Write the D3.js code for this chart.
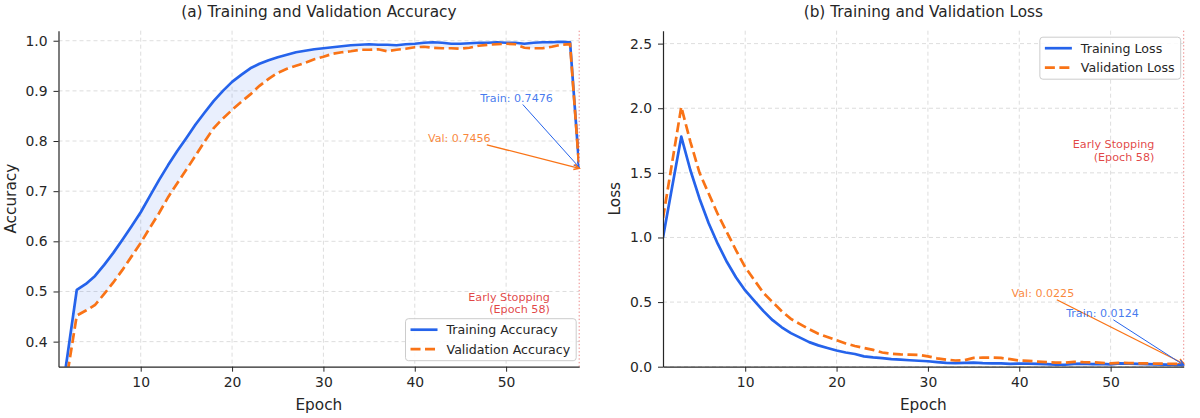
<!DOCTYPE html>
<html>
<head>
<meta charset="utf-8">
<script src="https://cdn.jsdelivr.net/npm/d3@7"></script>
<style>
  body { margin: 0; background: #fff; }
  svg { font-family: 'DejaVu Sans', sans-serif; }
</style>
</head>
<body>
<div id="chart"></div>
<script>
// values, epochs 1..58
const epochs = d3.range(1, 59)
const trainAcc = [
  0.250, 0.375, 0.503, 0.515, 0.531, 0.553, 0.577, 0.603, 0.630, 0.658,
  0.690, 0.722, 0.752, 0.780, 0.806, 0.833, 0.857, 0.880, 0.900, 0.918,
  0.932, 0.945, 0.954, 0.961, 0.967, 0.972, 0.977, 0.980, 0.983, 0.985,
  0.987, 0.989, 0.991, 0.992, 0.993, 0.992, 0.992, 0.991, 0.993, 0.994,
  0.996, 0.997, 0.996, 0.994, 0.994, 0.995, 0.996, 0.996, 0.997, 0.996,
  0.996, 0.994, 0.996, 0.997, 0.997, 0.998, 0.997, 0.7476
]
const valAcc = [
  0.226, 0.339, 0.452, 0.462, 0.473, 0.495, 0.518, 0.543, 0.570, 0.597,
  0.627, 0.656, 0.688, 0.716, 0.743, 0.771, 0.799, 0.826, 0.845, 0.862,
  0.878, 0.893, 0.910, 0.924, 0.936, 0.944, 0.950, 0.956, 0.963, 0.968,
  0.974, 0.977, 0.979, 0.982, 0.982, 0.983, 0.979, 0.982, 0.984, 0.987,
  0.988, 0.986, 0.985, 0.985, 0.984, 0.986, 0.990, 0.992, 0.993, 0.994,
  0.993, 0.986, 0.985, 0.985, 0.988, 0.992, 0.993, 0.7456
]
const trainLoss = [
  1.000, 1.390, 1.780, 1.520, 1.300, 1.110, 0.950, 0.810, 0.690, 0.590,
  0.510, 0.430, 0.360, 0.305, 0.260, 0.225, 0.190, 0.165, 0.145, 0.125,
  0.110, 0.098, 0.080, 0.072, 0.066, 0.058, 0.054, 0.050, 0.046, 0.042,
  0.036, 0.030, 0.028, 0.030, 0.032, 0.028, 0.026, 0.025, 0.022, 0.024,
  0.024, 0.022, 0.020, 0.016, 0.015, 0.022, 0.024, 0.020, 0.022, 0.018,
  0.026, 0.024, 0.022, 0.020, 0.018, 0.016, 0.014, 0.0124
]
const valLoss = [
  1.150, 1.580, 2.010, 1.740, 1.500, 1.340, 1.180, 1.040, 0.900, 0.770,
  0.670, 0.570, 0.500, 0.430, 0.370, 0.330, 0.290, 0.255, 0.230, 0.205,
  0.180, 0.160, 0.145, 0.130, 0.110, 0.100, 0.095, 0.093, 0.092, 0.080,
  0.065, 0.055, 0.048, 0.050, 0.068, 0.070, 0.070, 0.068, 0.058, 0.048,
  0.045, 0.040, 0.035, 0.032, 0.030, 0.038, 0.035, 0.034, 0.030, 0.026,
  0.030, 0.028, 0.026, 0.025, 0.024, 0.023, 0.022, 0.0225
]
const stopEpoch = 58
const epochTicks = [10, 20, 30, 40, 50]
const accTicks = [0.4, 0.5, 0.6, 0.7, 0.8, 0.9, 1.0]
const lossTicks = [0.0, 0.5, 1.0, 1.5, 2.0, 2.5]

const BLUE = '#2563eb'
const ORANGE = '#f97316'
const RED = '#dc2626'
const INK = '#262626'

const svg = d3.select('#chart').append('svg')
  .attr('width', 1200)
  .attr('height', 418)

let clipId = 0

function panel (opt) {
  const { x0, x1, y0, y1 } = opt
  const g = svg.append('g')

  const xScale = d3.scaleLinear().domain([1, stopEpoch]).range([x0, x1])
  const yScale = d3.scaleLinear().domain(opt.yDomain).range([y1, y0])

  // grid
  g.append('g').selectAll('line.gx')
    .data(epochTicks)
    .join('line')
    .attr('x1', d => xScale(d)).attr('x2', d => xScale(d))
    .attr('y1', y0).attr('y2', y1)
  g.append('g').selectAll('line.gy')
    .data(opt.yTicks)
    .join('line')
    .attr('x1', x0).attr('x2', x1)
    .attr('y1', d => yScale(d)).attr('y2', d => yScale(d))
  g.selectAll('g > line')
    .attr('stroke', '#d9d9d9')
    .attr('stroke-width', 0.9)
    .attr('stroke-dasharray', '4,3')

  const id = 'clip' + (clipId++)
  g.append('clipPath').attr('id', id)
    .append('rect')
    .attr('x', x0).attr('y', y0)
    .attr('width', x1 - x0).attr('height', y1 - y0)
  const plot = g.append('g').attr('clip-path', `url(#${id})`)

  if (opt.fill) {
    const area = d3.area()
      .x((d, i) => xScale(epochs[i]))
      .y0((d, i) => yScale(opt.val[i]))
      .y1(d => yScale(d))
    plot.append('path')
      .datum(opt.train)
      .attr('d', area)
      .attr('fill', BLUE)
      .attr('fill-opacity', 0.1)
  }

  const line = d3.line()
    .x((d, i) => xScale(epochs[i]))
    .y(d => yScale(d))
  plot.append('path')
    .datum(opt.train)
    .attr('d', line)
    .attr('fill', 'none')
    .attr('stroke', BLUE)
    .attr('stroke-width', 2.7)
    .attr('stroke-linejoin', 'round')
  plot.append('path')
    .datum(opt.val)
    .attr('d', line)
    .attr('fill', 'none')
    .attr('stroke', ORANGE)
    .attr('stroke-width', 2.7)
    .attr('stroke-dasharray', '10,4.5')

  // early stopping marker
  g.append('line')
    .attr('x1', xScale(stopEpoch)).attr('x2', xScale(stopEpoch))
    .attr('y1', y0).attr('y2', y1)
    .attr('stroke', RED)
    .attr('stroke-opacity', 0.55)
    .attr('stroke-width', 1)
    .attr('stroke-dasharray', '1.4,2.2')
  const st = g.append('text')
    .attr('x', xScale(opt.stopText[0]))
    .attr('y', yScale(opt.stopText[1]))
    .attr('text-anchor', 'end')
    .attr('fill', RED)
    .attr('fill-opacity', 0.85)
    .style('font-size', '11.2px')
  st.append('tspan').text('Early Stopping')
  st.append('tspan').attr('x', xScale(opt.stopText[0])).attr('dy', 12.8).text('(Epoch 58)')

  // axes
  const xAxis = g.append('g')
    .attr('transform', `translate(0,${y1})`)
    .call(d3.axisBottom(xScale).tickValues(epochTicks).tickSize(5).tickSizeOuter(0).tickPadding(5))
  const yAxis = g.append('g')
    .attr('transform', `translate(${x0},0)`)
    .call(d3.axisLeft(yScale).tickValues(opt.yTicks).tickSize(5).tickSizeOuter(0).tickPadding(6).tickFormat(d3.format('.1f')))
  for (const ax of [xAxis, yAxis]) {
    ax.attr('font-family', null).attr('font-size', null)
    ax.select('.domain').attr('stroke', INK).attr('stroke-width', 1.2)
    ax.selectAll('.tick line').attr('stroke', INK).attr('stroke-width', 1)
    ax.selectAll('.tick text').attr('fill', INK).style('font-size', '13.9px')
  }

  g.append('text')
    .attr('x', (x0 + x1) / 2)
    .attr('y', 17)
    .attr('text-anchor', 'middle')
    .attr('fill', INK)
    .style('font-size', '15.3px')
    .text(opt.title)
  g.append('text')
    .attr('x', (x0 + x1) / 2)
    .attr('y', 410)
    .attr('text-anchor', 'middle')
    .attr('fill', INK)
    .style('font-size', '15.3px')
    .text('Epoch')
  g.append('text')
    .attr('transform', `translate(${x0 - 43},${(y0 + y1) / 2}) rotate(-90)`)
    .attr('text-anchor', 'middle')
    .attr('fill', INK)
    .style('font-size', '15.3px')
    .text(opt.yLabel)

  // annotations
  for (const a of opt.notes) {
    const tx = xScale(stopEpoch)
    const ty = yScale(a.value)
    const cx = tx + a.dx
    const cy = ty + a.dy
    const t = g.append('text')
      .attr('x', cx).attr('y', cy)
      .attr('text-anchor', 'middle')
      .attr('dy', '0.36em')
      .attr('fill', a.color)
      .attr('fill-opacity', 0.85)
      .style('font-size', '11.1px')
      .text(a.label)
    const hw = t.node().getComputedTextLength() / 2 + 2
    const hh = 7
    const vx = tx - cx
    const vy = ty - cy
    const s = Math.min(hw / Math.abs(vx), hh / Math.abs(vy))
    const sx = cx + vx * s
    const sy = cy + vy * s
    const ang = Math.atan2(ty - sy, tx - sx)
    const hl = 6
    const hwid = 0.45
    g.append('line')
      .attr('x1', sx).attr('y1', sy)
      .attr('x2', tx).attr('y2', ty)
      .attr('stroke', a.color)
      .attr('stroke-width', a.width)
    g.append('path')
      .attr('d', `M${tx - hl * Math.cos(ang - hwid)},${ty - hl * Math.sin(ang - hwid)}L${tx},${ty}L${tx - hl * Math.cos(ang + hwid)},${ty - hl * Math.sin(ang + hwid)}`)
      .attr('fill', 'none')
      .attr('stroke', a.color)
      .attr('stroke-width', a.width + 0.2)
  }

  // legend
  const lg = g.append('g')
  const box = lg.append('rect')
    .attr('fill', '#fff')
    .attr('fill-opacity', 0.85)
    .attr('stroke', '#cccccc')
    .attr('stroke-width', 1)
    .attr('rx', 3)
  let maxW = 0
  opt.names.forEach((name, i) => {
    const yy = 11 + i * 19.5
    lg.append('line')
      .attr('x1', 5).attr('x2', 32)
      .attr('y1', yy).attr('y2', yy)
      .attr('stroke', i === 0 ? BLUE : ORANGE)
      .attr('stroke-width', 2.7)
      .attr('stroke-dasharray', i === 0 ? null : '10,4.5')
    const t = lg.append('text')
      .attr('x', 41).attr('y', yy)
      .attr('dy', '0.36em')
      .attr('fill', INK)
      .style('font-size', '12.6px')
      .text(name)
    maxW = Math.max(maxW, t.node().getComputedTextLength())
  })
  const bw = 41 + maxW + 6
  const bh = 42
  box.attr('width', bw).attr('height', bh)
  const lx = x1 - 3 - bw
  const ly = opt.legendTop ? y0 + 6.5 : y1 - 6 - bh
  lg.attr('transform', `translate(${lx},${ly})`)
}

panel({
  x0: 58.5, x1: 579.2, y0: 30.7, y1: 366.7,
  yDomain: [0.35, 1.02],
  yTicks: accTicks,
  title: '(a) Training and Validation Accuracy',
  yLabel: 'Accuracy',
  train: trainAcc,
  val: valAcc,
  fill: true,
  names: ['Training Accuracy', 'Validation Accuracy'],
  legendTop: false,
  stopText: [54.8, 0.482],
  notes: [
    { label: 'Train: 0.7476', value: trainAcc[57], dx: -62.7, dy: -69.8, color: BLUE, width: 1 },
    { label: 'Val: 0.7456', value: valAcc[57], dx: -119.9, dy: -30.5, color: ORANGE, width: 1.3 }
  ]
})

panel({
  x0: 663, x1: 1183.7, y0: 30.7, y1: 366.7,
  yDomain: [0, 2.6],
  yTicks: lossTicks,
  title: '(b) Training and Validation Loss',
  yLabel: 'Loss',
  train: trainLoss,
  val: valLoss,
  fill: false,
  names: ['Training Loss', 'Validation Loss'],
  legendTop: true,
  stopText: [54.8, 1.689],
  notes: [
    { label: 'Val: 0.0225', value: valLoss[57], dx: -140.8, dy: -71, color: ORANGE, width: 1.3 },
    { label: 'Train: 0.0124', value: trainLoss[57], dx: -81.2, dy: -52.3, color: BLUE, width: 1 }
  ]
})
</script>
</body>
</html>
